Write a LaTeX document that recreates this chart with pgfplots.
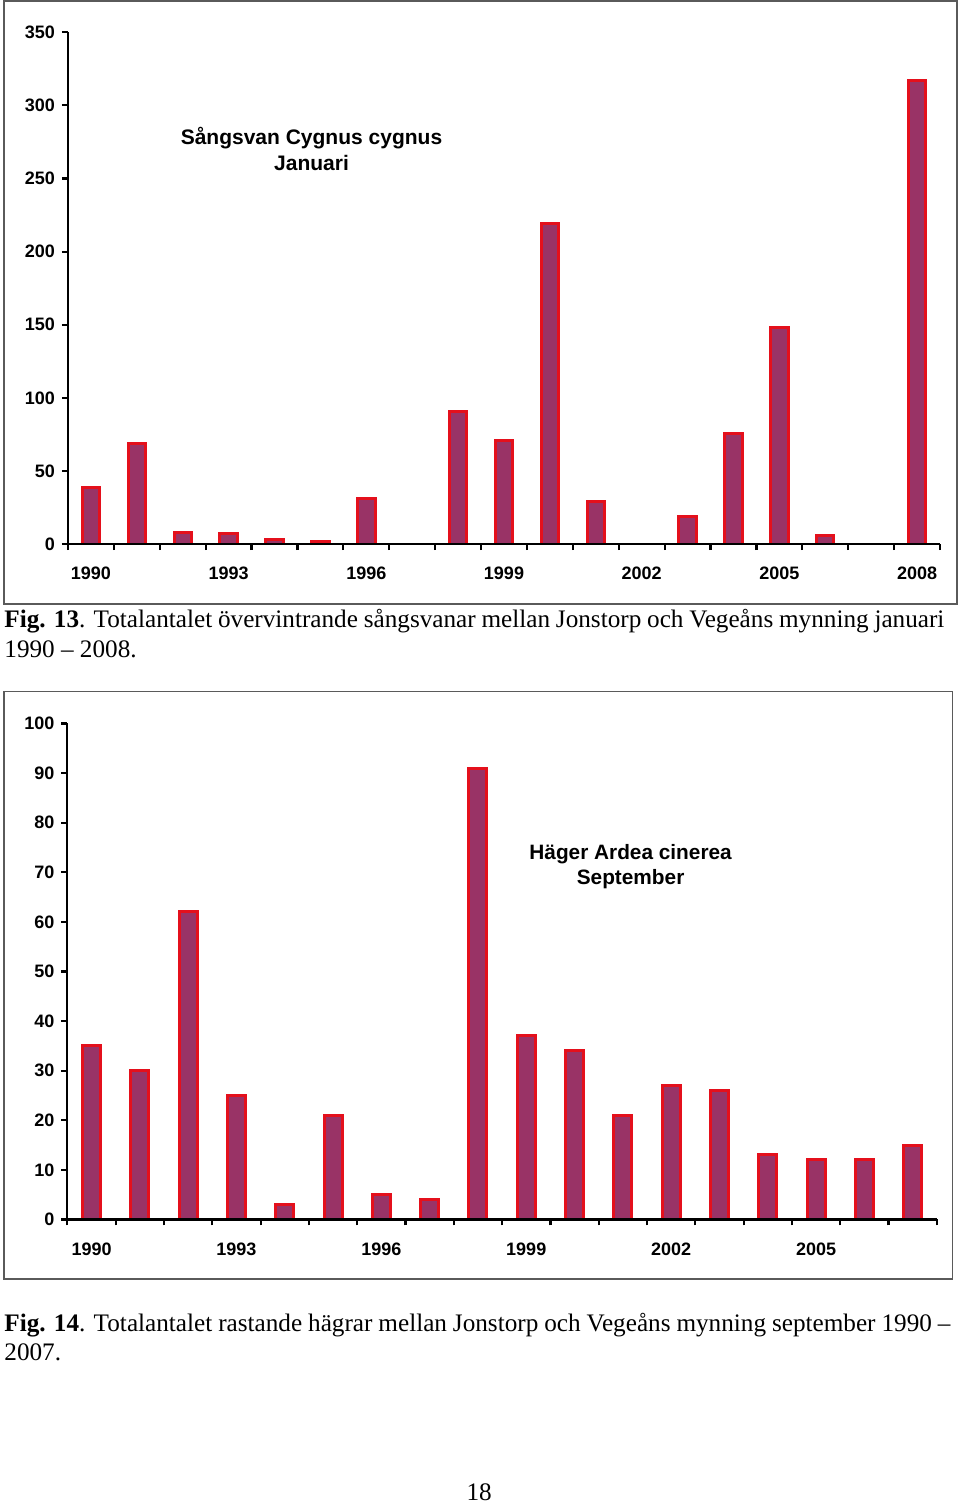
\documentclass[border=0pt]{standalone}
\usepackage{fontspec}
\setmainfont{Liberation Serif}
\newfontfamily\arialfont{Liberation Sans}
\usepackage{pgfplots}
\pgfplotsset{compat=1.18}
\definecolor{barfill}{RGB}{153,51,102}
\definecolor{barline}{RGB}{228,16,28}
\definecolor{framegray}{RGB}{90,90,90}
\pgfplotsset{
  birdbar/.style={
    scale only axis,
    axis on top,
    axis lines*=left,
    axis line style={line width=1.1pt, black},
    ymin=0,
    tick align=outside,
    major tick length=3pt,
    minor tick length=3pt,
    tick style={line width=1.1pt, black},
    major x tick style={draw=none},
    ticklabel style={font=\arialfont\bfseries\fontsize{9}{10}\selectfont},
    xticklabel style={yshift=-5pt},
    /pgf/number format/assume math mode=true,
    ybar,
  },
  birdplot/.style={fill=barfill, draw=barline, line width=1.5pt},
}
\begin{document}
\begin{tikzpicture}
\useasboundingbox (0,0) rectangle (480pt,-753pt);
% frames
\draw[framegray, line width=0.8pt] (2pt,-0.6pt) rectangle (478.6pt,-302pt);
\draw[framegray, line width=0.8pt] (2pt,-345.8pt) rectangle (476.3pt,-639.5pt);

% Fig 13
\begin{axis}[birdbar,
  at={(34pt,-272.1pt)}, anchor=south west,
  width=436pt, height=256pt,
  xmin=-0.5, xmax=18.5, ymax=350,
  ytick={0,50,...,350},
  xtick={0,3,...,18},
  xticklabels={1990,1993,1996,1999,2002,2005,2008},
  minor xtick={-0.5,0.5,...,18.5},
  bar width=8.7pt,
]
\addplot[birdplot] coordinates {(0,39)(1,69)(2,8)(3,7)(4,3)(5,2)(6,31)(7,0)(8,91)(9,71)(10,219)(11,29)(12,0)(13,19)(14,76)(15,148)(16,6)(17,0)(18,317)};
\end{axis}
\node[anchor=base, font=\arialfont\bfseries\fontsize{10.5}{12}\selectfont] at (155.75pt,-72.1pt) {Sångsvan Cygnus cygnus};
\node[anchor=base, font=\arialfont\bfseries\fontsize{10.5}{12}\selectfont] at (155.75pt,-85.4pt) {Januari};

\node[anchor=base west, inner sep=0pt, font=\fontsize{12.6}{14}\selectfont] at (2pt,-313.9pt) {\makebox[470pt][s]{\textbf{Fig. 13}. Totalantalet övervintrande sångsvanar mellan Jonstorp och Vegeåns mynning januari}};
\node[anchor=base west, inner sep=0pt, font=\fontsize{12.6}{14}\selectfont] at (2pt,-328.5pt) {1990 – 2008.};

% Fig 14
\begin{axis}[birdbar,
  at={(33.7pt,-609.7pt)}, anchor=south west,
  width=434.7pt, height=248pt,
  xmin=-0.5, xmax=17.5, ymax=100,
  ytick={0,10,...,100},
  xtick={0,3,...,15},
  xticklabels={1990,1993,1996,1999,2002,2005},
  minor xtick={-0.5,0.5,...,17.5},
  bar width=9pt,
]
\addplot[birdplot] coordinates {(0,35)(1,30)(2,62)(3,25)(4,3)(5,21)(6,5)(7,4)(8,91)(9,37)(10,34)(11,21)(12,27)(13,26)(14,13)(15,12)(16,12)(17,15)};
\end{axis}
\node[anchor=base, font=\arialfont\bfseries\fontsize{10.4}{12}\selectfont] at (315.3pt,-429.6pt) {Häger Ardea cinerea};
\node[anchor=base, font=\arialfont\bfseries\fontsize{10.4}{12}\selectfont] at (315.3pt,-442.4pt) {September};

\node[anchor=base west, inner sep=0pt, font=\fontsize{12.6}{14}\selectfont] at (2pt,-665.5pt) {\makebox[473pt][s]{\textbf{Fig. 14}. Totalantalet rastande hägrar mellan Jonstorp och Vegeåns mynning september 1990 –}};
\node[anchor=base west, inner sep=0pt, font=\fontsize{12.6}{14}\selectfont] at (2pt,-680pt) {2007.};

\node[anchor=base, inner sep=0pt, font=\fontsize{12.6}{14}\selectfont] at (239.6pt,-750pt) {18};
\end{tikzpicture}
\end{document}
